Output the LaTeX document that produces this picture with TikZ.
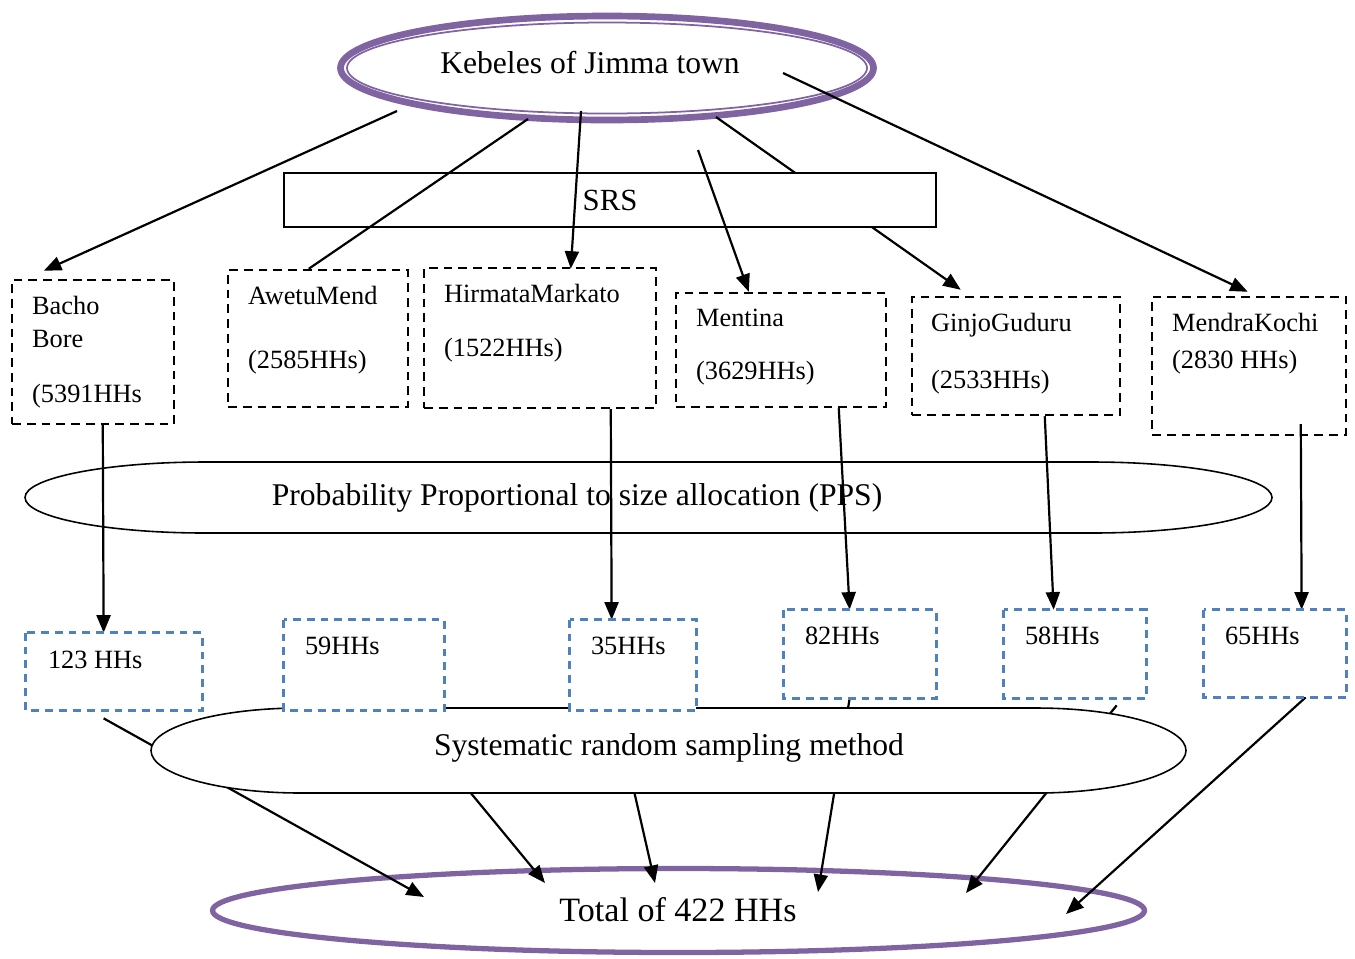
\documentclass[tikz,border=0pt]{standalone}
\usepackage{fontspec}
\setmainfont{Liberation Serif}
\usetikzlibrary{arrows.meta,calc,shapes.geometric}
\definecolor{kpurple}{RGB}{128,100,162}
\definecolor{kblue}{RGB}{79,129,189}
\newcommand{\pxu}{0.02cm}
\tikzset{
  kbox/.style={draw,line width=1.4pt,dash pattern=on 5pt off 3.4pt,inner sep=0pt},
  hslot/.style={inner sep=0pt},
  hbox/.style={draw=kblue,fill=white,line width=1.4pt,dash pattern=on 4.5pt off 3.4pt},
  ktext/.style={inner sep=0pt,anchor=north west,align=left,font=\fontsize{15}{18.7}\selectfont},
  htext/.style={inner sep=0pt,anchor=west,font=\fontsize{15}{18}\selectfont},
  bigtext/.style={inner sep=0pt,font=\fontsize{18}{22}\selectfont},
  kring/.style={ellipse,draw=kpurple,inner sep=0pt},
  stadium/.style={draw,line width=0.9pt}
}

\begin{document}
\begin{tikzpicture}[x=\pxu,y=-\pxu,>={Triangle[length=10pt,width=8pt]},
  arr/.style={->,line width=1.25pt},link/.style={line width=1.25pt}]
  \useasboundingbox (0,0) rectangle (1355,958);

  % top and bottom rings
  \node[kring,line width=3pt,minimum width=932*\pxu,minimum height=84*\pxu] (total) at (678.5,910.5) {};
  \node[inner sep=0pt,font=\fontsize{19.4}{23}\selectfont] (ttotal) at (678,910) {Total of 422 HHs};
  \node[kring,line width=3.8pt,minimum width=533*\pxu,minimum height=104*\pxu] (kebele) at (607,68) {};
  \node[kring,line width=1pt,minimum width=520*\pxu,minimum height=91*\pxu] (kebelein) at (kebele.center) {};
  \node[bigtext] (tkebele) at (590,63) {Kebeles of Jimma town};

  % kebele boxes
  \node[kbox,minimum width=162*\pxu,minimum height=144*\pxu] (bacho) at (93,352) {};
  \node[kbox,minimum width=180*\pxu,minimum height=137*\pxu] (awetu) at (318,338.5) {};
  \node[kbox,minimum width=232*\pxu,minimum height=140*\pxu] (hirmata) at (540,338) {};
  \node[kbox,minimum width=210*\pxu,minimum height=114*\pxu] (mentina) at (781,350) {};
  \node[kbox,minimum width=208*\pxu,minimum height=118*\pxu] (ginjo) at (1016,356) {};
  \node[kbox,minimum width=194*\pxu,minimum height=138*\pxu] (mendra) at (1249,366) {};

  \draw[arr] ($(kebele.center)+(109,49)$) -- ($(ginjo.north west)+(50,-6)$);
  \node[draw,fill=white,line width=0.9pt,minimum width=652*\pxu,minimum height=54*\pxu,
        inner sep=0pt,font=\fontsize{17.5}{21}\selectfont] (srs) at (610,200) {SRS};
  \draw[arr] ($(kebele.center)+(-210,43)$) -- ($(bacho.north west)+(33,-8)$);
  \draw[link] ($(kebele.center)+(-79,51)$) -- ($(awetu.north west)+(82,0)$);
  \draw[arr] ($(kebele.center)+(-26,43)$) -- ($(hirmata.north west)+(148,2)$);
  \draw[arr] ($(kebele.center)+(91,82)$) -- ($(mentina.north west)+(74,0)$);
  \draw[arr] ($(kebele.center)+(176,5)$) -- ($(mendra.north west)+(97,-4)$);

  \node[ktext] (tbacho) at ($(bacho.north west)+(21,17)$) {Bacho\\Bore\\[12.5pt](5391HHs};
  \node[ktext] (tawetu) at ($(awetu.north west)+(21,17)$) {AwetuMend\\[18pt](2585HHs)};
  \node[ktext] (thirmata) at ($(hirmata.north west)+(21,17)$) {HirmataMarkato\\[12pt](1522HHs)};
  \node[ktext] (tmentina) at ($(mentina.north west)+(21,17)$) {Mentina\\[11.5pt](3629HHs)};
  \node[ktext] (tginjo) at ($(ginjo.north west)+(20,17)$) {GinjoGuduru\\[14pt](2533HHs)};
  \node[ktext] (tmendra) at ($(mendra.north west)+(21,17)$) {MendraKochi\\[2.5pt](2830 HHs)};

  % allocation
  \draw[stadium] (205,462) -- (1092,462) arc[start angle=-90,end angle=90,x radius=180,y radius=35.5]
    -- (205,533) arc[start angle=90,end angle=270,x radius=180,y radius=35.5] -- cycle;
  \node[bigtext] (tpps) at (577,498) {Probability Proportional to size allocation (PPS)};

  % sample boxes
  \node[hslot,minimum width=176*\pxu,minimum height=77*\pxu] (h123) at (114,671.5) {};
  \node[hslot,minimum width=160*\pxu,minimum height=90*\pxu] (h59) at (364,665) {};
  \node[hslot,minimum width=126*\pxu,minimum height=90*\pxu] (h35) at (633,665) {};
  \node[hslot,minimum width=152*\pxu,minimum height=88*\pxu] (h82) at (860,654) {};
  \node[hslot,minimum width=142*\pxu,minimum height=88*\pxu] (h58) at (1075,654) {};
  \node[hslot,minimum width=142*\pxu,minimum height=87*\pxu] (h65) at (1275,653.5) {};

  \draw[arr] ($(bacho.south west)+(92,0)$) -- ($(h123.north west)+(78,0)$);
  \draw[arr] ($(hirmata.south west)+(188,0)$) -- ($(h35.north west)+(42,0)$);
  \draw[arr] ($(mentina.south west)+(164,0)$) -- ($(h82.north west)+(66,0)$);
  \draw[arr] ($(ginjo.south west)+(134,0)$) -- ($(h58.north west)+(50,0)$);
  \draw[arr] ($(mendra.south west)+(150,-12)$) -- ($(h65.north west)+(98,0)$);

  \draw[arr] ($(h123.south west)+(78,8)$) -- ($(total.center)+(-254.5,-13.5)$);
  \draw[arr] ($(h59.south west)+(119,0)$) -- ($(total.center)+(-133.5,-27.5)$);
  \draw[arr] ($(h35.south west)+(46,0)$) -- ($(total.center)+(-23.5,-27.5)$);
  \draw[arr] ($(h82.south west)+(66,0)$) -- ($(total.center)+(139.5,-18.5)$);
  \draw[arr] ($(h58.south west)+(113,7)$) -- ($(total.center)+(287.5,-17.5)$);
  \draw[arr] ($(h65.south west)+(102,0)$) -- ($(total.center)+(387.5,3.5)$);

  % systematic sampling
  \draw[stadium,fill=white] (301,708) -- (1036,708) arc[start angle=-90,end angle=90,x radius=150,y radius=42.5]
    -- (301,793) arc[start angle=90,end angle=270,x radius=150,y radius=42.5] -- cycle;
  \node[bigtext] (tsys) at (669,748) {Systematic random sampling method};

  \foreach \b in {h123,h59,h35,h82,h58,h65}
    \draw[hbox] (\b.north west) rectangle (\b.south east);
  \node[htext] (t123) at ($(h123.north west)+(22,27)$) {123 HHs};
  \node[htext] (t59) at ($(h59.north west)+(21,26)$) {59HHs};
  \node[htext] (t35) at ($(h35.north west)+(21,26)$) {35HHs};
  \node[htext] (t82) at ($(h82.north west)+(21,26)$) {82HHs};
  \node[htext] (t58) at ($(h58.north west)+(21,26)$) {58HHs};
  \node[htext] (t65) at ($(h65.north west)+(21,26)$) {65HHs};
\end{tikzpicture}
\end{document}
